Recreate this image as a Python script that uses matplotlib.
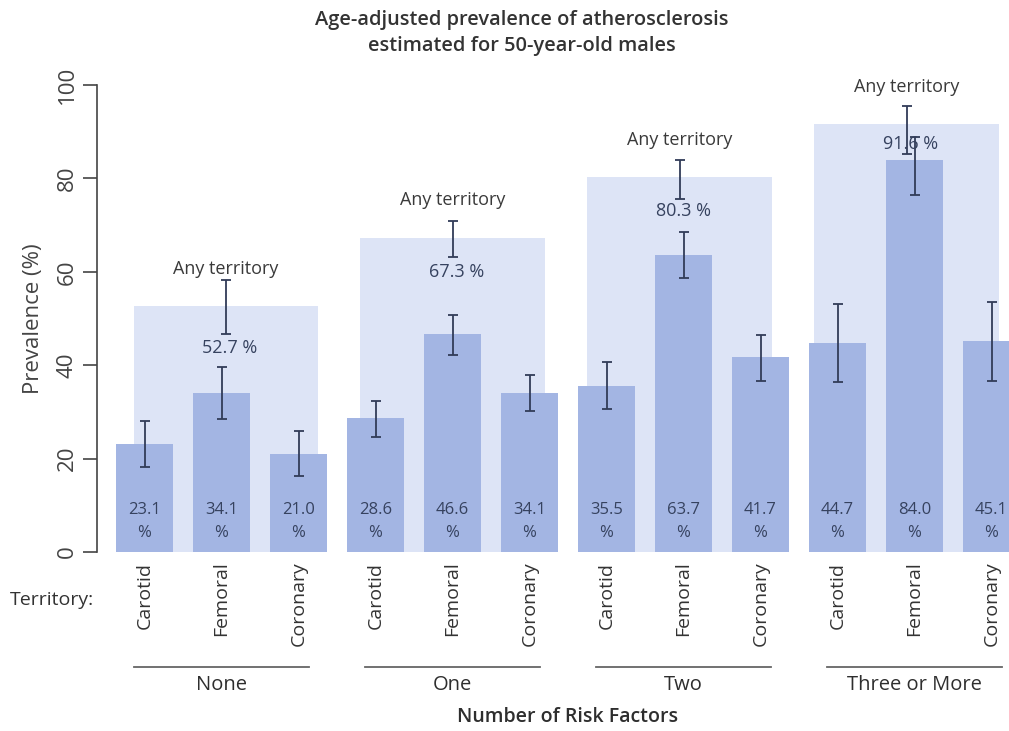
import matplotlib
matplotlib.use("Agg")
import matplotlib.pyplot as plt
import numpy as np

plt.rcParams['font.family'] = ['Open Sans', 'DejaVu Sans']

# data
groups = ["None", "One", "Two", "Three or More"]
territories = ["Carotid", "Femoral", "Coronary"]

prevalence = [23.1, 34.1, 21.0, 28.6, 46.6, 34.1, 35.5, 63.7, 41.7, 44.7, 84.0, 45.1]
ci_low = [18.2, 28.5, 16.3, 24.7, 42.2, 30.1, 30.6, 58.6, 36.6, 36.3, 76.5, 36.7]
ci_high = [28.1, 39.7, 26.0, 32.4, 50.7, 37.9, 40.6, 68.5, 46.5, 53.1, 88.9, 53.5]

any_prev = [52.7, 67.3, 80.3, 91.6]
any_low = [46.7, 63.1, 75.6, 85.2]
any_high = [58.2, 70.9, 84.0, 95.6]

# layout
W, H = 1009, 731
bar_color = "#a3b5e3"
box_color = "#dde4f6"
err_color = "#323c58"
txt_color = "#3a3a3a"
val_color = "#36425f"
any_label_offset = [-9.0, -7.3, -7.2, -4.2]

fig = plt.figure(figsize=(W / 100, H / 100), dpi=100)
ax = fig.add_axes([97 / W, (H - 552) / H, (W - 97) / W, 467 / H])

x = np.arange(len(prevalence))
box_x = 1.058 + 2.947 * np.arange(len(any_prev))

prev = np.array(prevalence)
anyp = np.array(any_prev)

ax.bar(box_x, anyp, width=2.4, color=box_color, zorder=1)
ax.bar(x, prev, width=0.74, color=bar_color, zorder=2)

ax.errorbar(x, prev, yerr=[prev - np.array(ci_low), np.array(ci_high) - prev],
            fmt="none", ecolor=err_color, elinewidth=1.3, capsize=3.6,
            capthick=1.3, zorder=3)
ax.errorbar(box_x, anyp, yerr=[anyp - np.array(any_low), np.array(any_high) - anyp],
            fmt="none", ecolor=err_color, elinewidth=1.3, capsize=3.6,
            capthick=1.3, zorder=3)

for xi, v in zip(x, prevalence):
    ax.text(xi, 9.0, f"{v:.1f}", ha="center", va="center", fontsize=12,
            color=val_color, zorder=4)
    ax.text(xi, 4.1, "%", ha="center", va="center", fontsize=12,
            color=val_color, zorder=4)

for bx, v, off in zip(box_x, any_prev, any_label_offset):
    ax.text(bx, v + 8, "Any territory", ha="center", va="center",
            fontsize=13, color=txt_color, zorder=4)
    ax.text(bx + 0.05, v + off, f"{v:.1f} %", ha="center", va="center",
            fontsize=13, color=val_color, zorder=4)

ax.set_xlim((97 - 144.5) / 77, (W - 144.5) / 77)
ax.set_ylim(0, 100)

for s in ["top", "right", "bottom"]:
    ax.spines[s].set_visible(False)
ax.spines["left"].set_bounds(0, 100)
ax.spines["left"].set_color("#444444")
ax.spines["left"].set_linewidth(1.2)

ax.set_yticks(np.arange(0, 101, 20))
ax.tick_params(axis="y", length=10, width=1.2, color="#444444", pad=4,
               labelsize=16, labelcolor="#444444", labelrotation=90)
for lab in ax.get_yticklabels():
    lab.set_va("center")

ax.set_xticks(x)
ax.set_xticklabels(territories * len(groups), rotation=90, fontsize=14,
                   color="#333333")
ax.tick_params(axis="x", length=0, pad=7)

ax.set_ylabel("Prevalence (%)", fontsize=16, color="#444444")
ax.yaxis.set_label_coords(-(97 - 44) / 912, 0.5)

for g, name in enumerate(groups):
    first = 3 * g
    ax.plot([first - 0.14, first + 2.14], [-24.6, -24.6], color="#666666",
            lw=1.3, clip_on=False)
    ax.text(first + 1, -28.5, name, ha="center", va="center", fontsize=14.5,
            color="#2e2e2e", clip_on=False)

ax.text(5.5, -35.3, "Number of Risk Factors", ha="center", va="center",
        fontsize=14, fontweight="semibold", color="#2e2e2e", clip_on=False)

fig.text(10 / W, 1 - 600 / H, "Territory:", ha="left", va="center",
         fontsize=14, color="#333333")

fig.text(522 / W, 1 - 20 / H, "Age-adjusted prevalence of atherosclerosis",
         ha="center", va="center", fontsize=14.4, fontweight="semibold",
         color="#333333")
fig.text(522 / W, 1 - 46 / H, "estimated for 50-year-old males",
         ha="center", va="center", fontsize=14.4, fontweight="semibold",
         color="#333333")

fig.savefig("out.png", dpi=100)
